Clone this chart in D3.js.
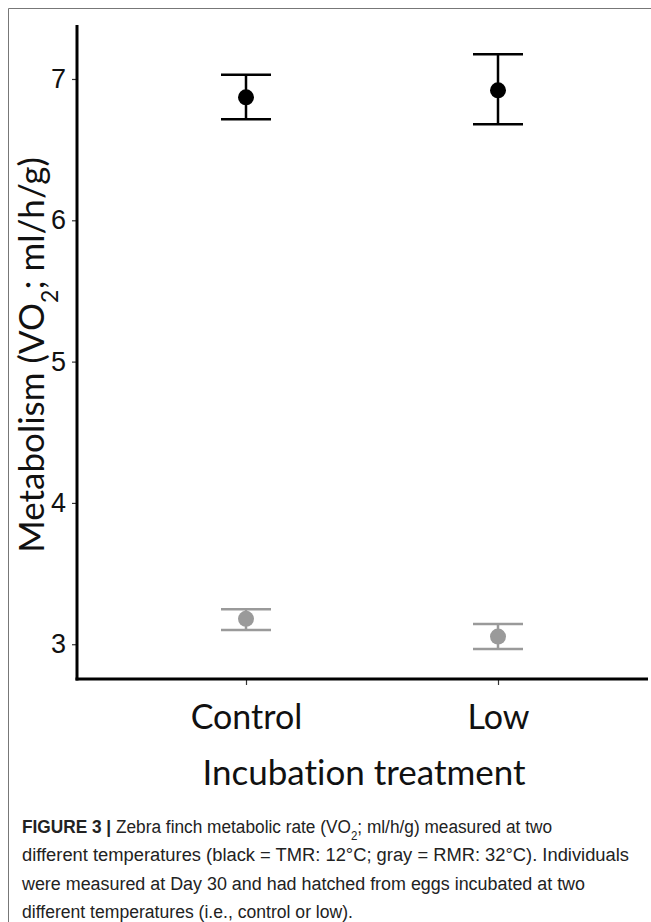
<!DOCTYPE html>
<html>
<head>
<meta charset="utf-8">
<script src="https://cdn.jsdelivr.net/npm/d3@7"></script>
<style>
  body { margin: 0; background: #fff; }
  svg { display: block; }
  text { font-variant-ligatures: none; }
</style>
</head>
<body>
<div id="chart"></div>
<script>
// Данные
const categories = ["Control", "Low"];
const tmrMean = [6.87, 6.92];   // чёрные точки (TMR: 12°C)
const tmrLow  = [6.715, 6.68];
const tmrHigh = [7.03, 7.175];
const rmrMean = [3.18, 3.054];  // серые точки (RMR: 32°C)
const rmrLow  = [3.10, 2.967];
const rmrHigh = [3.248, 3.144];
const yTicks = [3, 4, 5, 6, 7];

const series = [
    { color: "#000000", mean: tmrMean, lo: tmrLow, hi: tmrHigh },
    { color: "#9a9a9a", mean: rmrMean, lo: rmrLow, hi: rmrHigh }
];

const W = 651, H = 922;
const svg = d3.select("#chart").append("svg")
    .attr("width", W)
    .attr("height", H);

// Рамка рисунка (верх и лево)
svg.append("path")
   .attr("d", `M8.5,${H} L8.5,8.5 L${W},8.5`)
   .attr("fill", "none")
   .attr("stroke", "#777")
   .attr("stroke-width", 1);

const plotLeft = 77, plotRight = 648, plotTop = 25, plotBottom = 679;

const y = d3.scaleLinear().domain([2.754, 7.382]).range([plotBottom, plotTop]);
const x = d3.scalePoint().domain(categories).range([246, 498]);

const titleFont = "Lato, 'Open Sans', sans-serif";

// Ось Y
const yAxis = svg.append("g")
    .attr("transform", `translate(${plotLeft},0)`)
    .call(d3.axisLeft(y).tickValues(yTicks).tickSize(5).tickPadding(6).tickFormat(d3.format("d")));
yAxis.select(".domain").remove();
yAxis.selectAll(".tick line").attr("stroke", "#333").attr("stroke-width", 1.2);
yAxis.selectAll(".tick text")
     .style("font-family", "'Liberation Sans', Arial, sans-serif")
     .style("font-size", "27px")
     .attr("fill", "#111");

// Ось X
const xAxis = svg.append("g")
    .attr("transform", `translate(0,${plotBottom})`)
    .call(d3.axisBottom(x).tickSize(6).tickPadding(20));
xAxis.select(".domain").remove();
xAxis.selectAll(".tick line").attr("stroke", "#333").attr("stroke-width", 1.2);
xAxis.selectAll(".tick text")
     .style("font-family", titleFont)
     .style("font-size", "34px")
     .attr("fill", "#111");

// Линии осей
svg.append("line")
   .attr("x1", plotLeft).attr("x2", plotLeft)
   .attr("y1", plotTop).attr("y2", plotBottom + 1.5)
   .attr("stroke", "#000").attr("stroke-width", 3);
svg.append("line")
   .attr("x1", plotLeft - 1.5).attr("x2", plotRight)
   .attr("y1", plotBottom).attr("y2", plotBottom)
   .attr("stroke", "#000").attr("stroke-width", 3);

// Подписи осей
svg.append("text")
   .attr("transform", `translate(44,${(plotTop + plotBottom) / 2 + 3}) rotate(-90)`)
   .attr("text-anchor", "middle")
   .style("font-family", titleFont)
   .style("font-size", "35px")
   .attr("fill", "#111")
   .call(t => {
       t.append("tspan").text("Metabolism (VO");
       t.append("tspan").attr("baseline-shift", "sub").style("font-size", "23px").text("2");
       t.append("tspan").text("; ml/h/g)");
   });

svg.append("text")
   .attr("x", 364)
   .attr("y", 785)
   .attr("text-anchor", "middle")
   .style("font-family", titleFont)
   .style("font-size", "35px")
   .attr("fill", "#111")
   .text("Incubation treatment");

// Точки и планки погрешностей
const capHalf = 25;
series.forEach(s => {
    const g = svg.append("g");
    const rows = categories.map((c, i) => ({ c, mean: s.mean[i], lo: s.lo[i], hi: s.hi[i] }));

    g.selectAll(".stem").data(rows).enter().append("line")
     .attr("x1", d => x(d.c)).attr("x2", d => x(d.c))
     .attr("y1", d => y(d.hi)).attr("y2", d => y(d.lo))
     .attr("stroke", s.color).attr("stroke-width", 2.5);

    g.selectAll(".cap-hi").data(rows).enter().append("line")
     .attr("x1", d => x(d.c) - capHalf).attr("x2", d => x(d.c) + capHalf)
     .attr("y1", d => y(d.hi)).attr("y2", d => y(d.hi))
     .attr("stroke", s.color).attr("stroke-width", 2.5);

    g.selectAll(".cap-lo").data(rows).enter().append("line")
     .attr("x1", d => x(d.c) - capHalf).attr("x2", d => x(d.c) + capHalf)
     .attr("y1", d => y(d.lo)).attr("y2", d => y(d.lo))
     .attr("stroke", s.color).attr("stroke-width", 2.5);

    g.selectAll("circle").data(rows).enter().append("circle")
     .attr("cx", d => x(d.c))
     .attr("cy", d => y(d.mean))
     .attr("r", 8)
     .attr("fill", s.color);
});

// Подпись к рисунку (ширина строк подогнана под оригинал — узкого шрифта нет)
const captionLines = [
    null,
    "different temperatures (black = TMR: 12°C; gray = RMR: 32°C). Individuals",
    "were measured at Day 30 and had hatched from eggs incubated at two",
    "different temperatures (i.e., control or low)."
];
const lineWidths = [530, 607, 563, 331];
const capTop = 833, capStep = 28.3;
const cap = svg.append("g")
    .style("font-family", "'Liberation Sans', Arial, sans-serif")
    .style("font-size", "18px")
    .attr("fill", "#222");

const first = cap.append("text").attr("x", 22).attr("y", capTop)
    .attr("textLength", lineWidths[0]).attr("lengthAdjust", "spacingAndGlyphs");
first.append("tspan").style("font-weight", "bold").text("FIGURE 3 | ");
first.append("tspan").text("Zebra finch metabolic rate (VO");
first.append("tspan").attr("baseline-shift", "sub").style("font-size", "12px").text("2");
first.append("tspan").text("; ml/h/g) measured at two");

captionLines.forEach((line, i) => {
    if (!line) return;
    cap.append("text").attr("x", 22).attr("y", capTop + i * capStep)
       .attr("textLength", lineWidths[i]).attr("lengthAdjust", "spacingAndGlyphs")
       .text(line);
});
</script>
</body>
</html>
